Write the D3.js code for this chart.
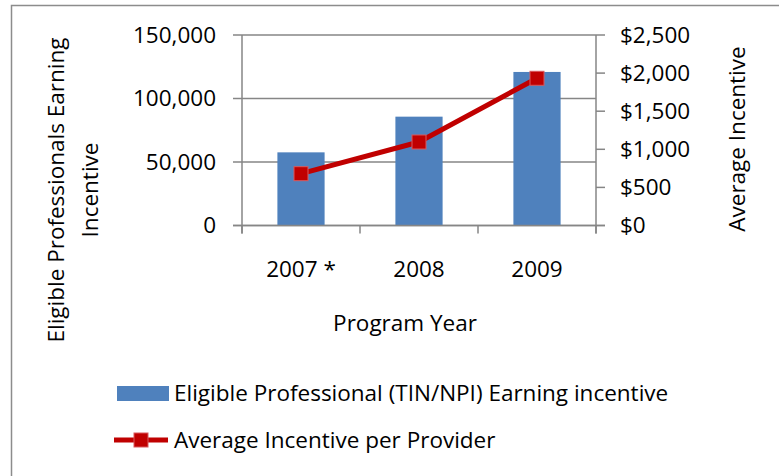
<!DOCTYPE html>
<html>
<head>
<meta charset="utf-8">
<script src="https://cdn.jsdelivr.net/npm/d3@7"></script>
<style>
    body { margin: 0; background: #fff; }
    svg text { font-family: "Open Sans", sans-serif; fill: #000; }
</style>
</head>
<body>
<svg width="779" height="476"></svg>
<script>
// dados
var years = ["2007 *", "2008", "2009"];
var professionals = [57600, 85700, 120900];
var avgIncentive = [680, 1096, 1932];
var leftTicks = [0, 50000, 100000, 150000];
var rightTicks = [0, 500, 1000, 1500, 2000, 2500];

var svg = d3.select("svg");
var fs = 22.5;

// moldura externa
svg.append("rect")
    .attr("x", 11.5).attr("y", 5.5)
    .attr("width", 800).attr("height", 500)
    .attr("fill", "none")
    .attr("stroke", "#8c8c8c")
    .attr("stroke-width", 1.5);

var pLeft = 242, pRight = 596, pTop = 35, pBottom = 225.5;

var x = d3.scaleBand().domain(years).range([pLeft, pRight]).paddingInner(0.6).paddingOuter(0.3);
var yL = d3.scaleLinear().domain([0, 150000]).range([pBottom, pTop]);
var yR = d3.scaleLinear().domain([0, 2500]).range([pBottom, pTop]);

var grey = "#868686";

// linhas de grade
svg.append("g")
    .selectAll("line")
    .data(leftTicks)
    .enter().append("line")
    .attr("x1", pLeft - 9).attr("x2", pRight)
    .attr("y1", function (d) { return yL(d); })
    .attr("y2", function (d) { return yL(d); })
    .attr("stroke", grey)
    .attr("stroke-width", 1.5);

// eixo esquerdo
svg.append("line")
    .attr("x1", pLeft).attr("x2", pLeft)
    .attr("y1", pTop).attr("y2", pBottom + 8)
    .attr("stroke", grey).attr("stroke-width", 1.5);

svg.append("g")
    .selectAll("text")
    .data(leftTicks)
    .enter().append("text")
    .attr("x", pLeft - 26)
    .attr("y", function (d) { return yL(d); })
    .attr("dy", "0.35em")
    .attr("text-anchor", "end")
    .style("font-size", fs + "px")
    .text(d3.format(","));

// eixo direito
svg.append("line")
    .attr("x1", pRight).attr("x2", pRight)
    .attr("y1", pTop).attr("y2", pBottom + 8)
    .attr("stroke", grey).attr("stroke-width", 1.5);

svg.append("g")
    .selectAll("line")
    .data(rightTicks)
    .enter().append("line")
    .attr("x1", pRight).attr("x2", pRight + 9)
    .attr("y1", function (d) { return yR(d); })
    .attr("y2", function (d) { return yR(d); })
    .attr("stroke", grey).attr("stroke-width", 1.5);

svg.append("g")
    .selectAll("text")
    .data(rightTicks)
    .enter().append("text")
    .attr("x", pRight + 24)
    .attr("y", function (d) { return yR(d); })
    .attr("dy", "0.35em")
    .style("font-size", fs + "px")
    .text(function (d) { return "$" + d3.format(",")(d); });

// marcas do eixo x nas fronteiras das categorias
var step = (pRight - pLeft) / years.length;
svg.append("g")
    .selectAll("line")
    .data(d3.range(years.length + 1))
    .enter().append("line")
    .attr("x1", function (i) { return pLeft + i * step; })
    .attr("x2", function (i) { return pLeft + i * step; })
    .attr("y1", pBottom).attr("y2", pBottom + 8)
    .attr("stroke", grey).attr("stroke-width", 1.5);

// barras
svg.append("g")
    .selectAll("rect")
    .data(professionals)
    .enter().append("rect")
    .attr("x", function (d, i) { return x(years[i]); })
    .attr("y", function (d) { return yL(d); })
    .attr("width", x.bandwidth())
    .attr("height", function (d) { return pBottom - yL(d); })
    .attr("fill", "#4f81bd");

// eixo x por cima das barras
svg.append("line")
    .attr("x1", pLeft - 9).attr("x2", pRight + 9)
    .attr("y1", pBottom).attr("y2", pBottom)
    .attr("stroke", grey).attr("stroke-width", 1.5);

svg.append("g")
    .selectAll("text")
    .data(years)
    .enter().append("text")
    .attr("x", function (d) { return x(d) + x.bandwidth() / 2; })
    .attr("y", 277)
    .attr("text-anchor", "middle")
    .style("font-size", fs + "px")
    .text(function (d) { return d; });

// linha da media
var line = d3.line()
    .x(function (d, i) { return x(years[i]) + x.bandwidth() / 2; })
    .y(function (d) { return yR(d); });

svg.append("path")
    .datum(avgIncentive)
    .attr("d", line)
    .attr("fill", "none")
    .attr("stroke", "#c00000")
    .attr("stroke-width", 5)
    .attr("stroke-linejoin", "round");

svg.append("g")
    .selectAll("rect")
    .data(avgIncentive)
    .enter().append("rect")
    .attr("x", function (d, i) { return x(years[i]) + x.bandwidth() / 2 - 7; })
    .attr("y", function (d) { return yR(d) - 7; })
    .attr("width", 14).attr("height", 14)
    .attr("fill", "#c00000")
    .attr("stroke", "#d9595c")
    .attr("stroke-width", 1);

// titulos dos eixos
svg.append("text")
    .attr("x", 405).attr("y", 331)
    .attr("text-anchor", "middle")
    .style("font-size", fs + "px")
    .text("Program Year");

var ltitle = svg.append("text")
    .attr("transform", "translate(0,190) rotate(-90)")
    .attr("text-anchor", "middle")
    .style("font-size", fs + "px");
ltitle.append("tspan").attr("x", 0).attr("y", 64).text("Eligible Professionals Earning");
ltitle.append("tspan").attr("x", 0).attr("y", 98).text("Incentive");

svg.append("text")
    .attr("transform", "translate(745,139) rotate(-90)")
    .attr("text-anchor", "middle")
    .style("font-size", fs + "px")
    .text("Average Incentive");

// legenda
svg.append("rect")
    .attr("x", 117).attr("y", 386)
    .attr("width", 52).attr("height", 15)
    .attr("fill", "#4f81bd");
svg.append("text")
    .attr("x", 174).attr("y", 393)
    .attr("dy", "0.35em")
    .style("font-size", fs + "px")
    .text("Eligible Professional (TIN/NPI) Earning incentive");

svg.append("line")
    .attr("x1", 114).attr("x2", 168)
    .attr("y1", 440).attr("y2", 440)
    .attr("stroke", "#c00000").attr("stroke-width", 5);
svg.append("rect")
    .attr("x", 134).attr("y", 433)
    .attr("width", 14).attr("height", 14)
    .attr("fill", "#c00000")
    .attr("stroke", "#d9595c");
svg.append("text")
    .attr("x", 174).attr("y", 440)
    .attr("dy", "0.35em")
    .style("font-size", fs + "px")
    .text("Average Incentive per Provider");
</script>
</body>
</html>
